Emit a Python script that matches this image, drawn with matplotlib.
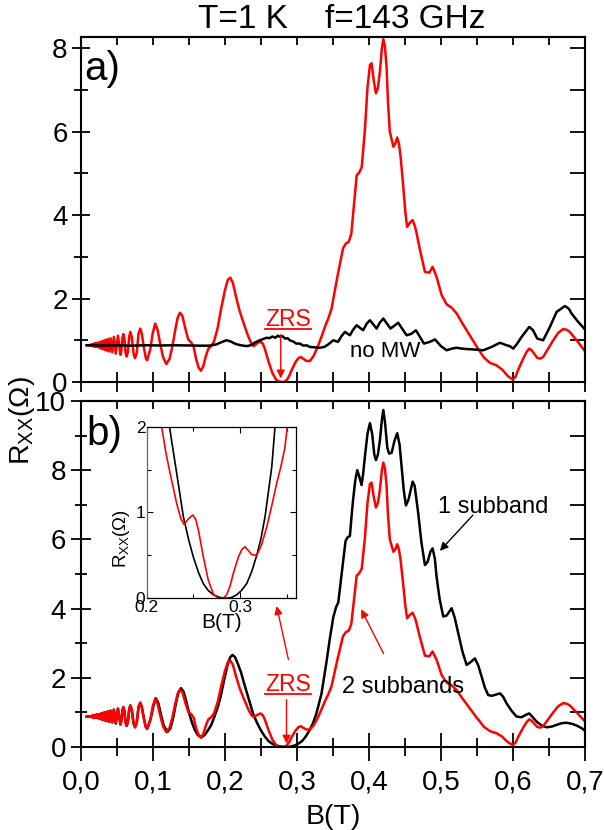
import numpy as np
import matplotlib
matplotlib.use('Agg')
import matplotlib.pyplot as plt
from matplotlib.ticker import MultipleLocator
from matplotlib.lines import Line2D

plt.rcParams['font.family'] = ['Liberation Sans', 'DejaVu Sans']
plt.rcParams['mathtext.fontset'] = 'custom'
plt.rcParams['mathtext.rm'] = 'Liberation Sans'
plt.rcParams['mathtext.it'] = 'Liberation Sans:italic'
plt.rcParams['mathtext.bf'] = 'Liberation Sans:bold'

# low field part, same for both MW traces (B in T, Rxx in Ohm)
low_field = [
    (0.008, 0.88), (0.010, 0.885), (0.012, 0.875), (0.013, 0.89), (0.014, 0.87),
    (0.0148, 0.895), (0.0155, 0.865), (0.0158, 0.90), (0.0161, 0.865), (0.0164, 0.905),
    (0.0168, 0.86), (0.0171, 0.91), (0.0175, 0.86), (0.0178, 0.91), (0.0182, 0.86),
    (0.0186, 0.915), (0.0191, 0.855), (0.0195, 0.92), (0.0200, 0.85), (0.0205, 0.925),
    (0.0211, 0.85), (0.0216, 0.93), (0.0222, 0.845), (0.0228, 0.935), (0.0235, 0.84),
    (0.0241, 0.94), (0.0249, 0.83), (0.0257, 0.95), (0.0265, 0.82), (0.0274, 0.96),
    (0.0283, 0.80), (0.0293, 0.975), (0.0305, 0.79), (0.0316, 0.99), (0.0329, 0.77),
    (0.0342, 1.01), (0.0358, 0.75), (0.0373, 1.03), (0.0392, 0.73), (0.0411, 1.05),
    (0.0433, 0.71), (0.0457, 1.08), (0.0484, 0.68), (0.0514, 1.11), (0.0549, 0.65),
    (0.0561, 0.75), (0.0576, 1.05), (0.0588, 1.15), (0.0603, 1.05), (0.0620, 0.70),
    (0.0635, 0.61), (0.0652, 0.72), (0.0670, 1.08), (0.0686, 1.20), (0.0706, 1.08),
    (0.0731, 0.68), (0.0751, 0.57), (0.0775, 0.70), (0.0800, 1.16), (0.0824, 1.28),
    (0.0845, 1.16), (0.0875, 0.82), (0.0900, 0.58),
]

# 2 subbands, with MW (red, both panels)
two_sub = [
    (0.0919, 0.52), (0.0965, 0.80), (0.0995, 1.15), (0.1031, 1.40), (0.1065, 1.25),
    (0.110, 0.92), (0.114, 0.60), (0.1185, 0.43), (0.123, 0.55), (0.127, 0.85),
    (0.131, 1.25), (0.1345, 1.55), (0.1377, 1.66), (0.141, 1.58), (0.145, 1.28),
    (0.149, 1.02), (0.153, 0.95), (0.1565, 0.85), (0.160, 0.55), (0.1635, 0.34),
    (0.1667, 0.27), (0.170, 0.38), (0.1735, 0.62), (0.177, 0.80), (0.181, 0.86),
    (0.185, 0.98), (0.190, 1.30), (0.195, 1.78), (0.200, 2.20), (0.204, 2.45),
    (0.2075, 2.50), (0.211, 2.38), (0.216, 2.00), (0.2205, 1.70), (0.225, 1.46),
    (0.232, 1.11), (0.2365, 0.93), (0.240, 0.86), (0.245, 0.93), (0.2495, 0.97),
    (0.2525, 0.92), (0.2555, 0.79), (0.2607, 0.48), (0.266, 0.21), (0.2714, 0.05),
    (0.2755, 0.01), (0.2785, 0.0), (0.282, 0.0), (0.2857, 0.04), (0.2895, 0.15),
    (0.2928, 0.29), (0.2982, 0.48), (0.302, 0.57), (0.3054, 0.60), (0.3085, 0.56),
    (0.3125, 0.51), (0.3179, 0.50), (0.3230, 0.62), (0.3286, 0.83), (0.334, 1.08),
    (0.3393, 1.34), (0.3435, 1.52), (0.348, 1.75), (0.3528, 2.20), (0.3565, 2.55),
    (0.3600, 2.85), (0.3640, 3.20), (0.3680, 3.32), (0.3720, 3.36), (0.3755, 3.55),
    (0.3790, 4.20), (0.383, 4.95), (0.3865, 5.02), (0.3900, 5.15), (0.3944, 6.04),
    (0.398, 7.05), (0.4014, 7.60), (0.4037, 7.64), (0.4065, 7.25), (0.4097, 6.92),
    (0.4125, 7.05), (0.4153, 7.45), (0.4180, 8.00), (0.4200, 8.22), (0.4222, 8.05),
    (0.4245, 7.55), (0.4265, 6.70), (0.429, 6.00), (0.434, 5.64), (0.4368, 5.72),
    (0.4393, 5.86), (0.4418, 5.70), (0.444, 5.40), (0.4477, 4.68), (0.4505, 4.10),
    (0.453, 3.72), (0.457, 3.82), (0.4607, 3.88), (0.4635, 3.75), (0.4653, 3.64),
    (0.471, 3.16), (0.4778, 2.64), (0.4838, 2.62), (0.4884, 2.76), (0.494, 2.52),
    (0.501, 2.08), (0.508, 1.86), (0.515, 1.78), (0.522, 1.64), (0.530, 1.40),
    (0.540, 1.12), (0.550, 0.84), (0.560, 0.58), (0.568, 0.46), (0.577, 0.40),
    (0.585, 0.30), (0.593, 0.14), (0.5995, 0.06), (0.6035, 0.12), (0.607, 0.28),
    (0.6143, 0.56), (0.619, 0.72), (0.6227, 0.80), (0.626, 0.76), (0.6295, 0.68),
    (0.6337, 0.58), (0.638, 0.56), (0.642, 0.60), (0.649, 0.80), (0.656, 1.00),
    (0.663, 1.18), (0.670, 1.27), (0.675, 1.25), (0.679, 1.20), (0.6885, 1.00),
    (0.700, 0.74),
]

# 1 subband, with MW (black, bottom panel)
one_sub = [
    (0.0925, 0.55), (0.097, 0.82), (0.1005, 1.18), (0.104, 1.41), (0.1075, 1.27),
    (0.111, 0.95), (0.115, 0.62), (0.1204, 0.44), (0.1245, 0.55), (0.1285, 0.88),
    (0.132, 1.27), (0.1355, 1.58), (0.139, 1.70), (0.1425, 1.60), (0.146, 1.35),
    (0.150, 1.00), (0.154, 0.72), (0.158, 0.50), (0.1625, 0.34), (0.1676, 0.28),
    (0.172, 0.35), (0.176, 0.47), (0.1806, 0.62), (0.185, 0.85), (0.190, 1.15),
    (0.194, 1.45), (0.199, 1.95), (0.204, 2.40), (0.2075, 2.60), (0.2106, 2.66),
    (0.214, 2.60), (0.218, 2.40), (0.222, 2.18), (0.2265, 1.85), (0.2321, 1.46),
    (0.2393, 0.95), (0.245, 0.68), (0.250, 0.48), (0.2555, 0.30), (0.2607, 0.17),
    (0.266, 0.09), (0.2714, 0.04), (0.2785, 0.01), (0.2857, 0.0), (0.291, 0.01),
    (0.2964, 0.04), (0.3015, 0.09), (0.3071, 0.17), (0.3125, 0.31), (0.3179, 0.50),
    (0.3225, 0.70), (0.3268, 0.95), (0.334, 1.53), (0.3375, 2.00), (0.341, 2.45),
    (0.3455, 3.10), (0.3505, 3.75), (0.3545, 4.05), (0.3574, 4.17), (0.361, 4.80),
    (0.3643, 5.40), (0.3675, 5.95), (0.3700, 6.05), (0.3736, 6.10), (0.376, 6.70),
    (0.378, 7.14), (0.381, 7.70), (0.3838, 8.00), (0.3868, 7.80), (0.3898, 7.57),
    (0.392, 7.90), (0.3944, 8.39), (0.398, 9.05), (0.4014, 9.36), (0.4045, 9.05),
    (0.4075, 8.45), (0.4097, 8.29), (0.4125, 8.45), (0.4153, 8.87), (0.4180, 9.45),
    (0.4200, 9.74), (0.4225, 9.35), (0.4255, 8.65), (0.428, 8.48), (0.4315, 8.50),
    (0.4355, 8.85), (0.4393, 9.07), (0.4425, 8.75), (0.4454, 8.10), (0.4485, 7.40),
    (0.4514, 6.98), (0.455, 7.15), (0.4607, 7.67), (0.4635, 7.55), (0.4685, 6.75),
    (0.473, 5.90), (0.4778, 5.26), (0.4815, 5.35), (0.4855, 5.65), (0.4884, 5.74),
    (0.4915, 5.45), (0.494, 4.92), (0.498, 4.30), (0.5032, 3.77), (0.508, 3.80),
    (0.5148, 4.01), (0.519, 3.75), (0.524, 3.29), (0.530, 2.75), (0.5357, 2.37),
    (0.541, 2.45), (0.5472, 2.56), (0.552, 2.35), (0.5565, 2.03), (0.561, 1.72),
    (0.5657, 1.50), (0.571, 1.48), (0.577, 1.52), (0.582, 1.55), (0.5865, 1.45),
    (0.5912, 1.26), (0.598, 1.05), (0.605, 0.88), (0.612, 0.86), (0.618, 0.93),
    (0.6227, 0.97), (0.628, 0.85), (0.633, 0.73), (0.640, 0.62), (0.6468, 0.57),
    (0.654, 0.59), (0.6607, 0.64), (0.668, 0.69), (0.6746, 0.70), (0.682, 0.67),
    (0.6885, 0.62), (0.695, 0.55), (0.700, 0.47),
]

# no MW (black, top panel)
no_mw = [
    (0.008, 0.88), (0.03, 0.875), (0.05, 0.88), (0.07, 0.87), (0.09, 0.88),
    (0.11, 0.875), (0.13, 0.88), (0.15, 0.875), (0.165, 0.87), (0.178, 0.87),
    (0.188, 0.90), (0.196, 0.96), (0.2023, 1.00), (0.208, 0.97), (0.215, 0.91),
    (0.222, 0.88), (0.230, 0.86), (0.236, 0.88), (0.242, 0.95), (0.2486, 1.00),
    (0.253, 1.03), (0.258, 1.06), (0.262, 1.05), (0.266, 1.09), (0.270, 1.06),
    (0.2735, 1.11), (0.2764, 1.08), (0.280, 1.10), (0.2835, 1.04), (0.287, 1.05),
    (0.291, 0.99), (0.295, 0.97), (0.299, 0.92), (0.304, 0.92), (0.309, 0.87),
    (0.3134, 0.88), (0.318, 0.84), (0.325, 0.83), (0.332, 0.82), (0.338, 0.84),
    (0.3435, 0.90), (0.3505, 1.00), (0.357, 0.96), (0.362, 1.10), (0.3667, 1.20),
    (0.3736, 1.12), (0.378, 1.25), (0.3829, 1.36), (0.392, 1.24), (0.397, 1.40),
    (0.4014, 1.48), (0.4107, 1.28), (0.415, 1.42), (0.420, 1.52), (0.430, 1.28),
    (0.4407, 1.42), (0.4523, 1.12), (0.4585, 1.15), (0.4653, 1.24), (0.4764, 0.92),
    (0.4845, 0.96), (0.4917, 1.02), (0.500, 0.86), (0.5079, 0.76), (0.5155, 0.80),
    (0.5218, 0.82), (0.529, 0.80), (0.535, 0.79), (0.545, 0.78), (0.5588, 0.76),
    (0.5704, 0.84), (0.582, 0.94), (0.5912, 0.88), (0.5955, 0.86), (0.6005, 0.80),
    (0.606, 0.92), (0.612, 1.08), (0.6227, 1.32), (0.628, 1.24), (0.6338, 1.04),
    (0.642, 1.00), (0.6514, 1.32), (0.6607, 1.68), (0.6722, 1.82), (0.6775, 1.76),
    (0.6815, 1.64), (0.6907, 1.44), (0.700, 1.26),
]

xtick_vals = [0.0, 0.1, 0.2, 0.3, 0.4, 0.5, 0.6, 0.7]
xtick_labels = ['0,0', '0,1', '0,2', '0,3', '0,4', '0,5', '0,6', '0,7']

mw2 = np.vstack([np.array(low_field), np.array(two_sub)])
mw1 = np.vstack([np.array(low_field), np.array(one_sub)])
nomw = np.array(no_mw)


def frame(ax, ymax, left_len, bot_len):
    ax.set_xlim(0, 0.7)
    ax.set_ylim(0, ymax)
    ax.xaxis.set_major_locator(MultipleLocator(0.1))
    ax.xaxis.set_minor_locator(MultipleLocator(0.05))
    ax.yaxis.set_major_locator(MultipleLocator(2))
    ax.yaxis.set_minor_locator(MultipleLocator(1))
    ax.tick_params(which='both', direction='inout', width=1.3, labelsize=20,
                   top=False, right=False)
    ax.tick_params(axis='y', which='major', length=left_len[0], pad=3)
    ax.tick_params(axis='y', which='minor', length=left_len[1])
    ax.tick_params(axis='x', which='major', length=bot_len[0], pad=6)
    ax.tick_params(axis='x', which='minor', length=bot_len[1])
    for s in ax.spines.values():
        s.set_linewidth(1.5)
    top = ax.secondary_xaxis('top')
    top.xaxis.set_major_locator(MultipleLocator(0.05))
    top.tick_params(direction='in', length=6, width=1.3, labeltop=False)
    top.spines['top'].set_linewidth(1.5)
    right = ax.secondary_yaxis('right')
    right.yaxis.set_major_locator(MultipleLocator(1))
    right.tick_params(direction='in', length=11, width=1.3, labelright=False)
    right.spines['right'].set_linewidth(1.5)


fig = plt.figure(figsize=(6.04, 8.30), dpi=100)

# panel a
ax1 = fig.add_axes([0.134, 0.5398, 0.8344, 0.4156])
ax1.plot(mw2[:, 0], mw2[:, 1], color='red', lw=1.8)
ax1.plot(nomw[:, 0], nomw[:, 1], color='black', lw=1.8)
frame(ax1, 8.27, (13, 10), (14, 14))
ax1.tick_params(axis='x', labelbottom=False)
ax1.text(0.004, 7.5, 'a)', fontsize=29, ha='left', va='center')
zrs_a = ax1.text(0.2875, 1.34, 'ZRS', color='red', fontsize=16.5,
                 ha='center', va='baseline')
ax1.annotate('', xy=(0.2775, 0.02), xytext=(0.2775, 1.2),
             arrowprops=dict(arrowstyle='-|>', color='red', lw=1, mutation_scale=12))
ax1.text(0.3736, 0.60, 'no MW', fontsize=16, ha='left', va='baseline')

# panel b
ax2 = fig.add_axes([0.134, 0.1, 0.8344, 0.4169])
ax2.plot(mw1[:, 0], mw1[:, 1], color='black', lw=1.8)
ax2.plot(mw2[:, 0], mw2[:, 1], color='red', lw=1.8)
frame(ax2, 10, (15, 9), (20, 13))
ax2.set_xticks(xtick_vals)
ax2.set_xticklabels(xtick_labels)
ax2.set_xlabel('B(T)', fontsize=20.5, labelpad=6)
ax2.text(0.008, 9.05, 'b)', fontsize=29, ha='left', va='center')
zrs_b = ax2.text(0.2875, 1.63, 'ZRS', color='red', fontsize=16.5,
                 ha='center', va='baseline')
ax2.annotate('', xy=(0.2855, 0.02), xytext=(0.2855, 1.45),
             arrowprops=dict(arrowstyle='-|>', color='red', lw=1, mutation_scale=12))
ax2.annotate('', xy=(0.271, 4.15), xytext=(0.289, 2.45),
             arrowprops=dict(arrowstyle='-|>', color='red', lw=1, mutation_scale=12))
ax2.text(0.496, 6.75, '1 subband', fontsize=17, ha='left', va='baseline')
ax2.annotate('', xy=(0.496, 5.61), xytext=(0.547, 6.76),
             arrowprops=dict(arrowstyle='-|>', color='black', lw=1, mutation_scale=12))
ax2.text(0.3625, 1.55, '2 subbands', fontsize=17, ha='left', va='baseline')
ax2.annotate('', xy=(0.3875, 4.05), xytext=(0.422, 2.63),
             arrowprops=dict(arrowstyle='-|>', color='red', lw=1, mutation_scale=12))

fig.text(0.037, 0.493, 'R$_{\\mathrm{XX}}$(Ω)', fontsize=20.5, rotation=90,
         ha='center', va='center')
fig.text(0.566, 0.9663, 'T=1 K    f=143 GHz', fontsize=24, ha='center', va='baseline')

# inset
ins = fig.add_axes([0.2429, 0.2792, 0.2472, 0.2067])
ins.plot(mw1[:, 0], mw1[:, 1], color='black', lw=1.2)
ins.plot(mw2[:, 0], mw2[:, 1], color='red', lw=1.2)
ins.set_xlim(0.2, 0.36)
ins.set_ylim(0, 2)
ins.set_xticks([0.2, 0.3])
ins.set_xticklabels(['0.2', '0.3'])
ins.xaxis.set_minor_locator(MultipleLocator(0.05))
ins.yaxis.set_major_locator(MultipleLocator(1))
ins.yaxis.set_minor_locator(MultipleLocator(0.5))
ins.tick_params(which='both', direction='in', top=True, right=True, labelsize=12.5,
                pad=1, width=0.8)
ins.tick_params(which='major', length=4)
ins.tick_params(which='minor', length=3)
for s in ins.spines.values():
    s.set_linewidth(0.9)
ins.spines['left'].set_color('#666666')
ins.set_xlabel('B(T)', fontsize=15, labelpad=-1)
ins.set_ylabel('R$_{\\mathrm{XX}}$(Ω)', fontsize=13.5)
ins.yaxis.set_label_coords(-0.1, 0.35)

# underline the ZRS labels
fig.canvas.draw()
inv = fig.transFigure.inverted()
for t in (zrs_a, zrs_b):
    bb = t.get_window_extent().transformed(inv)
    fig.add_artist(Line2D([bb.x0, bb.x1], [bb.y0 + 0.002] * 2, color='red', lw=1.3,
                          transform=fig.transFigure))

fig.savefig('out.png', dpi=100)
